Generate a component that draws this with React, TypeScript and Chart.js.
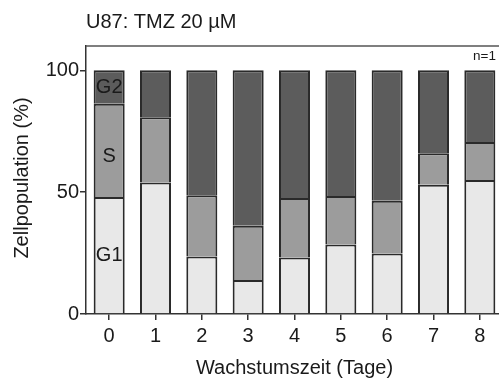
import React, { useEffect, useRef } from "react";
import { Chart, registerables } from "chart.js";

Chart.register(...registerables);

// Days of growth on the x axis
const days = ["0", "1", "2", "3", "4", "5", "6", "7", "8"];
// Cell-cycle phase shares (%) per day
const g1Share = [48, 54, 23.6, 14, 23.2, 28.5, 24.8, 53, 55];
const sShare = [38.3, 26.8, 25.1, 22.2, 24.4, 19.9, 21.7, 13, 15.6];
const g2Share = [13.7, 19.2, 51.3, 63.8, 52.4, 51.6, 53.5, 34, 29.4];
// Phase names written inside the first bar, and the value they sit at
const phaseNames = ["G1", "S", "G2"];
const phaseLabelAt = [24, 64.5, 93];
const yTickValues = [0, 50, 100];

const FONT = '"Liberation Sans", Arial, Helvetica, sans-serif';
const INK = "#1a1a1a";
const AXIS = "#333333";

const textPlugin = {
  id: "cellCycleText",
  afterDraw(chart: any) {
    const { ctx, chartArea, scales } = chart;
    ctx.save();
    // frame line along the top of the plot
    ctx.strokeStyle = "#555555";
    ctx.lineWidth = 1.5;
    ctx.beginPath();
    ctx.moveTo(chartArea.left, chartArea.top);
    ctx.lineTo(chartArea.right, chartArea.top);
    ctx.stroke();

    ctx.fillStyle = INK;
    // chart title
    ctx.font = `20px ${FONT}`;
    ctx.textAlign = "left";
    ctx.textBaseline = "alphabetic";
    ctx.fillText("U87: TMZ 20 µM", 86, 28);

    // replicate count
    ctx.font = `13.5px ${FONT}`;
    ctx.textAlign = "right";
    ctx.fillText("n=1", 496, 60);

    // phase names inside the first bar
    ctx.font = `20px ${FONT}`;
    ctx.textAlign = "center";
    ctx.textBaseline = "middle";
    const x0 = scales.x.getPixelForValue(0);
    phaseNames.forEach((name, i) => {
      ctx.fillText(name, x0, scales.y.getPixelForValue(phaseLabelAt[i]));
    });

    // y axis title
    ctx.translate(27.5, 178);
    ctx.rotate(-Math.PI / 2);
    ctx.font = `20px ${FONT}`;
    ctx.textBaseline = "alphabetic";
    ctx.fillText("Zellpopulation (%)", 0, 0);
    ctx.restore();
  },
};

export default function App() {
  const canvasRef = useRef<HTMLCanvasElement>(null);

  useEffect(() => {
    const canvas = canvasRef.current;
    if (!canvas) return;
    const segment = {
      borderColor: "#2a2a2a",
      borderWidth: 2,
      barPercentage: 0.67,
      categoryPercentage: 1,
    };
    const chart = new Chart(canvas, {
      type: "bar",
      data: {
        labels: days,
        datasets: [
          { label: "G1", data: g1Share, backgroundColor: "#e8e8e8", ...segment },
          { label: "S", data: sShare, backgroundColor: "#9c9c9c", ...segment },
          { label: "G2", data: g2Share, backgroundColor: "#5c5c5c", ...segment },
        ],
      },
      options: {
        animation: false,
        responsive: false,
        devicePixelRatio: 1,
        layout: { padding: { top: 46, left: 0, right: 0, bottom: 0 } },
        plugins: {
          legend: { display: false },
          tooltip: { enabled: false },
          title: { display: false },
        },
        scales: {
          x: {
            stacked: true,
            offset: true,
            afterFit: (scale: any) => {
              scale.height = 66;
            },
            grid: {
              display: true,
              drawOnChartArea: false,
              drawTicks: true,
              tickLength: 6,
              offset: false,
              color: AXIS,
              lineWidth: 1.5,
            },
            border: { display: true, color: AXIS, width: 1.5 },
            ticks: {
              color: INK,
              padding: 4,
              maxRotation: 0,
              font: { family: FONT, size: 20 },
            },
            title: {
              display: true,
              text: "Wachstumszeit (Tage)",
              color: INK,
              padding: { top: 0, bottom: 0 },
              font: { family: FONT, size: 20 },
            },
          },
          y: {
            stacked: true,
            min: 0,
            max: 110,
            afterFit: (scale: any) => {
              scale.width = 86;
            },
            afterBuildTicks: (scale: any) => {
              scale.ticks = yTickValues.map((v) => ({ value: v }));
            },
            grid: {
              display: true,
              drawOnChartArea: false,
              drawTicks: true,
              tickLength: 6,
              color: AXIS,
              lineWidth: 1.5,
            },
            border: { display: true, color: AXIS, width: 1.5 },
            ticks: {
              color: INK,
              padding: 1,
              font: { family: FONT, size: 20 },
            },
          },
        },
      },
      plugins: [textPlugin],
    });
    return () => chart.destroy();
  }, []);

  return (
    <div
      style={{
        position: "fixed",
        left: 0,
        top: 0,
        width: 499,
        height: 380,
        overflow: "hidden",
        background: "#ffffff",
      }}
    >
      <canvas ref={canvasRef} width={503} height={380} style={{ display: "block" }} />
    </div>
  );
}
